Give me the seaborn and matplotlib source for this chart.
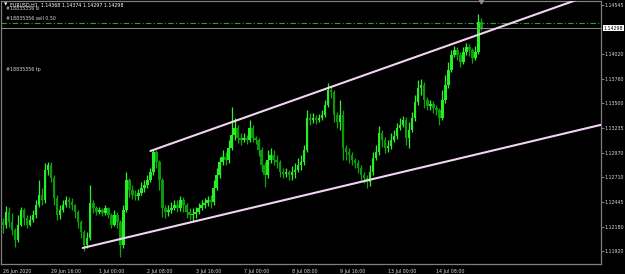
import matplotlib
matplotlib.use("Agg")
import numpy as np
import pandas as pd
import matplotlib.pyplot as plt
import seaborn as sns

# ---------------- data (EURUSD, bars aggregated to 2 hours, x in H1 bar units) ----------------
first_open = 1.12229
closes = [1.12197, 1.12336, 1.12229, 1.12144, 1.12037, 1.12197, 1.12357, 1.12272, 1.12197, 1.12251,
          1.12304, 1.12411, 1.12517, 1.12464, 1.12784, 1.12837, 1.12699, 1.12485, 1.12304, 1.12357,
          1.12411, 1.12464, 1.12443, 1.12411, 1.12336, 1.12229, 1.12123, 1.11984, 1.12059, 1.12432,
          1.12379, 1.12336, 1.12357, 1.12325, 1.12379, 1.12304, 1.12197, 1.12304, 1.12229, 1.11984,
          1.12357, 1.12677, 1.12571, 1.12517, 1.12507, 1.12539, 1.12592, 1.12624, 1.12677, 1.12763,
          1.12976, 1.12870, 1.12677, 1.12379, 1.12336, 1.12357, 1.12379, 1.12411, 1.12379, 1.12464,
          1.12411, 1.12336, 1.12304, 1.12315, 1.12336, 1.12379, 1.12411, 1.12432, 1.12464, 1.12443,
          1.12592, 1.12731, 1.12870, 1.12923, 1.12891, 1.13019, 1.13158, 1.13232, 1.13126, 1.13104,
          1.13126, 1.13104, 1.13232, 1.13126, 1.13104, 1.12998, 1.12837, 1.12731, 1.12891, 1.12944,
          1.12891, 1.12870, 1.12763, 1.12741, 1.12763, 1.12731, 1.12763, 1.12784, 1.12837, 1.12870,
          1.12998, 1.13339, 1.13318, 1.13339, 1.13318, 1.13339, 1.13371, 1.13478, 1.13638, 1.13616,
          1.13371, 1.13296, 1.13371, 1.13019, 1.12976, 1.12944, 1.12891, 1.12859, 1.12805, 1.12731,
          1.12699, 1.12656, 1.12763, 1.12912, 1.12976, 1.13179, 1.13104, 1.13019, 1.13040, 1.13104,
          1.13147, 1.13232, 1.13264, 1.13318, 1.13126, 1.13211, 1.13339, 1.13510, 1.13659, 1.13691,
          1.13531, 1.13467, 1.13488, 1.13446, 1.13424, 1.13339, 1.13531, 1.13691, 1.13851, 1.14011,
          1.14065, 1.14011, 1.13937, 1.14043, 1.14097, 1.14065, 1.13979, 1.14043, 1.14363, 1.14298]
highs = [1.12272, 1.12400, 1.12389, 1.12325, 1.12165, 1.12304, 1.12389, 1.12379, 1.12304, 1.12304,
         1.12357, 1.12464, 1.12677, 1.12592, 1.12859, 1.12870, 1.12870, 1.12731, 1.12517, 1.12411,
         1.12464, 1.12507, 1.12496, 1.12485, 1.12421, 1.12357, 1.12251, 1.12144, 1.12123, 1.12624,
         1.12464, 1.12400, 1.12389, 1.12379, 1.12411, 1.12389, 1.12325, 1.12357, 1.12336, 1.12251,
         1.12411, 1.12763, 1.12699, 1.12624, 1.12571, 1.12581, 1.12656, 1.12677, 1.12731, 1.12805,
         1.13008, 1.12998, 1.12891, 1.12699, 1.12411, 1.12411, 1.12443, 1.12464, 1.12464, 1.12507,
         1.12496, 1.12432, 1.12379, 1.12379, 1.12389, 1.12432, 1.12464, 1.12485, 1.12507, 1.12517,
         1.12677, 1.12805, 1.12923, 1.12998, 1.12976, 1.13104, 1.13456, 1.13339, 1.13264, 1.13179,
         1.13179, 1.13158, 1.13318, 1.13264, 1.13147, 1.13126, 1.13030, 1.12870, 1.12998, 1.13019,
         1.12998, 1.12944, 1.12891, 1.12805, 1.12805, 1.12784, 1.12827, 1.12859, 1.12912, 1.12944,
         1.13051, 1.13424, 1.13392, 1.13392, 1.13371, 1.13382, 1.13424, 1.13531, 1.13712, 1.13680,
         1.13638, 1.13403, 1.13531, 1.13424, 1.13051, 1.13019, 1.12976, 1.12912, 1.12891, 1.12837,
         1.12763, 1.12731, 1.12837, 1.12976, 1.13051, 1.13254, 1.13211, 1.13136, 1.13104, 1.13179,
         1.13211, 1.13286, 1.13339, 1.13360, 1.13350, 1.13296, 1.13403, 1.13584, 1.13744, 1.13755,
         1.13723, 1.13563, 1.13531, 1.13520, 1.13478, 1.13446, 1.13638, 1.13798, 1.13937, 1.14065,
         1.14107, 1.14097, 1.14043, 1.14097, 1.14139, 1.14129, 1.14086, 1.14107, 1.14449, 1.14406]
lows = [1.12112, 1.12165, 1.12176, 1.12091, 1.11963, 1.12016, 1.12187, 1.12197, 1.12165, 1.12187,
        1.12229, 1.12272, 1.12389, 1.12411, 1.12432, 1.12731, 1.12656, 1.12411, 1.12251, 1.12261,
        1.12336, 1.12389, 1.12379, 1.12357, 1.12272, 1.12165, 1.12059, 1.11920, 1.11952, 1.12037,
        1.12325, 1.12304, 1.12315, 1.12293, 1.12304, 1.12272, 1.12165, 1.12187, 1.12165, 1.11856,
        1.11952, 1.12336, 1.12496, 1.12475, 1.12464, 1.12464, 1.12517, 1.12549, 1.12592, 1.12656,
        1.12731, 1.12805, 1.12571, 1.12283, 1.12272, 1.12293, 1.12325, 1.12357, 1.12336, 1.12347,
        1.12336, 1.12272, 1.12251, 1.12229, 1.12272, 1.12315, 1.12357, 1.12379, 1.12400, 1.12379,
        1.12411, 1.12571, 1.12699, 1.12837, 1.12837, 1.12859, 1.12998, 1.13104, 1.13072, 1.13051,
        1.13083, 1.13062, 1.13083, 1.13083, 1.13062, 1.12934, 1.12763, 1.12603, 1.12699, 1.12859,
        1.12837, 1.12805, 1.12709, 1.12699, 1.12709, 1.12677, 1.12677, 1.12699, 1.12763, 1.12784,
        1.12837, 1.12976, 1.13264, 1.13286, 1.13275, 1.13296, 1.13318, 1.13350, 1.13456, 1.13552,
        1.13296, 1.13232, 1.13211, 1.12891, 1.12891, 1.12859, 1.12837, 1.12805, 1.12752, 1.12677,
        1.12645, 1.12592, 1.12613, 1.12731, 1.12891, 1.12944, 1.13030, 1.12966, 1.12976, 1.13008,
        1.13083, 1.13115, 1.13211, 1.13243, 1.13051, 1.13019, 1.13190, 1.13307, 1.13478, 1.13584,
        1.13446, 1.13424, 1.13424, 1.13392, 1.13371, 1.13264, 1.13318, 1.13499, 1.13659, 1.13830,
        1.13990, 1.13958, 1.13883, 1.13915, 1.14011, 1.14001, 1.13926, 1.13958, 1.14022, 1.14278]
bar_time = list(range(0, 2 * len(closes), 2))      # hourly bar index of each 2-hour candle

xtick_pos = [0, 32, 64, 96, 128, 160, 192, 224, 256, 288]
xtick_labels = ["26 Jun 2020", "29 Jun 16:00", "1 Jul 00:00", "2 Jul 08:00", "3 Jul 16:00",
                "7 Jul 00:00", "8 Jul 08:00", "9 Jul 16:00", "13 Jul 00:00", "14 Jul 08:00"]
ytick_vals = [1.14545, 1.14020, 1.13760, 1.13500, 1.13235, 1.12970, 1.12710, 1.12445, 1.12180, 1.11920]
ytick_labels = ["1.14545", "1.14020", "1.13760", "1.13500", "1.13235", "1.12970", "1.12710",
                "1.12445", "1.12180", "1.11920"]

bid_price = 1.14298
sell_price = 1.14353
upper_channel = {"t": [98, 233], "price": [1.12987, 1.13755]}
lower_channel = {"t": [53, 344], "price": [1.11952, 1.13062]}
header = "EURUSD,H1  1.14368 1.14374 1.14297 1.14298"

# ---------------- frame ----------------
opens = [first_open] + closes[:-1]
df = pd.DataFrame({"t": bar_time, "open": opens, "high": highs, "low": lows, "close": closes})
df["bull"] = df["close"] >= df["open"]

sns.set_theme(style="dark")
BG = "#000000"
GRID = "#7f7f7f"
TXT = "#d9d9d9"
plt.rcParams.update({"figure.facecolor": BG, "axes.facecolor": BG,
                     "savefig.facecolor": BG})
plt.rcParams["font.family"] = ["DejaVu Sans"]

W, H = 625, 274
fig = plt.figure(figsize=(W / 100, H / 100), dpi=100)
ax = fig.add_axes([1 / W, 10 / H, 600 / W, 263 / H])
ax.set_facecolor(BG)
XMIN, XMAX = -1.3, 397.5
YMIN, YMAX = 1.11781, 1.14587
ax.set_xlim(XMIN, XMAX)
ax.set_ylim(YMIN, YMAX)
ax.grid(False)

bull_col = "#22f022"
bear_col = "#0a9a0a"
wick_col = {True: "#30f030", False: "#0fa80f"}

for bull, sub in df.groupby("bull"):
    ax.vlines(sub["t"], sub["low"], sub["high"], color=wick_col[bull], lw=0.9, zorder=2)
    bottoms = np.minimum(sub["open"], sub["close"])
    heights = np.maximum(np.abs(sub["close"] - sub["open"]), 0.00004)
    ax.bar(sub["t"], heights, bottom=bottoms, width=1.7,
           color=bull_col if bull else bear_col, edgecolor="none", zorder=3)

# channel lines (rays to the right)
line_col = "#f3d3f3"
for ch in (upper_channel, lower_channel):
    t0, t1 = ch["t"]
    p0, p1 = ch["price"]
    slope = (p1 - p0) / (t1 - t0)
    ray = pd.DataFrame({"t": [t0, XMAX], "price": [p0, p0 + slope * (XMAX - t0)]})
    sns.lineplot(data=ray, x="t", y="price", ax=ax, color=line_col, lw=1.5,
                 zorder=5, legend=False)

# order and bid lines
ax.axhline(sell_price, color="#2aa02a", lw=0.8, ls=(0, (5, 2, 1, 2)), zorder=4)
ax.axhline(bid_price, color="#8c8c8c", lw=0.7, zorder=4)

# spines
for s in ax.spines.values():
    s.set_visible(True)
    s.set_color(GRID)
    s.set_linewidth(0.9)

FS = 3.4
ax.set_xticks(xtick_pos)
ax.set_xticklabels(xtick_labels, ha="left")
ax.yaxis.tick_right()
ax.set_yticks(ytick_vals)
ax.set_yticklabels(ytick_labels)
ax.tick_params(axis="x", colors=GRID, labelcolor=TXT, labelsize=FS, length=2.5, width=0.7,
               pad=1.0, direction="out")
ax.tick_params(axis="y", colors=GRID, labelcolor=TXT, labelsize=FS, length=2.0, width=0.7,
               pad=0.6, direction="out", right=True, left=False)
ax.set_xlabel("")
ax.set_ylabel("")

# bid price label box
ax.text(1.004, bid_price, f"{bid_price:.5f}", transform=ax.get_yaxis_transform(),
        ha="left", va="center", fontsize=FS, color="#000000",
        bbox=dict(boxstyle="square,pad=0.12", fc="#ffffff", ec="none"), clip_on=False, zorder=10)

# shift marker at top
ax.plot([318], [YMAX], marker="v", ms=3.5, color="#8c8c8c", clip_on=False, zorder=10)

# texts
def yfrac(py):
    return (264 - py) / 263

ax.text(3 / 600, yfrac(5), "\u25bc", transform=ax.transAxes, fontsize=3.2, color="#ffffff",
        ha="left", va="center")
ax.text(9 / 600, yfrac(5), header, transform=ax.transAxes, fontsize=FS, color="#ffffff",
        ha="left", va="center")
ax.text(5 / 600, yfrac(9), "#18835356 sl", transform=ax.transAxes, fontsize=FS, color=TXT,
        ha="left", va="center")
ax.text(5 / 600, yfrac(19), "#18835356 sell 0.50", transform=ax.transAxes, fontsize=FS,
        color=TXT, ha="left", va="center")
ax.text(5 / 600, yfrac(69), "#18835356 tp", transform=ax.transAxes, fontsize=FS, color=TXT,
        ha="left", va="center")

fig.savefig("out.png", dpi=100, facecolor=BG)
